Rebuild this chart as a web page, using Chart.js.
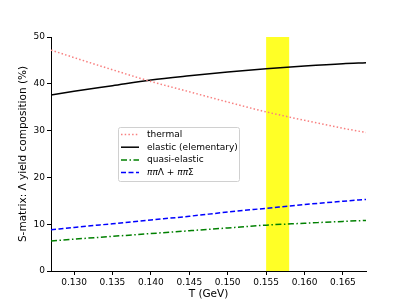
<!DOCTYPE html>
<html lang="en">
<head>
    <meta charset="UTF-8">
    <title>S-matrix Lambda yield composition</title>
    <script src="https://cdnjs.cloudflare.com/ajax/libs/Chart.js/4.4.1/chart.umd.min.js"></script>
    <style>
        body { margin: 0; padding: 0; background: #fff; }
        #chart-container { width: 407px; height: 305px; }
    </style>
</head>
<body>
    <div id="chart-container">
        <canvas id="myChart" width="407" height="305"></canvas>
    </div>

    <script>
    // temperatures (GeV)
    const temps = [0.127, 0.130, 0.135, 0.140, 0.145, 0.150, 0.155, 0.160, 0.165, 0.168];
    const thermal = [47.2, 45.6, 43.0, 40.5, 38.3, 36.1, 34.0, 32.2, 30.5, 29.6];
    const elastic = [37.6, 38.4, 39.6, 40.8, 41.7, 42.5, 43.2, 43.8, 44.3, 44.5];
    const quasiElastic = [6.4, 6.8, 7.4, 8.0, 8.6, 9.2, 9.8, 10.2, 10.6, 10.8];
    const pipiLambda = [8.8, 9.3, 10.1, 10.9, 11.7, 12.6, 13.4, 14.2, 14.9, 15.3];
    const xTicks = [0.130, 0.135, 0.140, 0.145, 0.150, 0.155, 0.160, 0.165];
    const yTicks = [0, 10, 20, 30, 40, 50];
    const band = [0.155, 0.158];

    const FONT = 'DejaVu Sans';

    function pts(ys) {
        return temps.map((t, i) => ({ x: t, y: ys[i] }));
    }

    // yellow band behind the curves
    const bandPlugin = {
        id: 'band',
        beforeDatasetsDraw(chart) {
            const { ctx, chartArea, scales } = chart;
            const x0 = scales.x.getPixelForValue(band[0]);
            const x1 = scales.x.getPixelForValue(band[1]);
            ctx.save();
            ctx.fillStyle = 'rgba(255,255,0,0.85)';
            ctx.fillRect(x0, chartArea.top, x1 - x0, chartArea.bottom - chartArea.top);
            ctx.restore();
        }
    };

    // label text, pi drawn in italic like matplotlib mathtext
    function drawLabel(ctx, text, x, y) {
        for (const ch of text) {
            ctx.font = (ch === '\u03c0' ? 'italic ' : '') + '9px "' + FONT + '"';
            ctx.fillText(ch, x, y);
            x += ctx.measureText(ch).width;
        }
    }

    // matplotlib-style legend box inside the axes
    const legendPlugin = {
        id: 'boxLegend',
        afterDatasetsDraw(chart) {
            const { ctx, chartArea } = chart;
            const bx = chartArea.left + 67, by = chartArea.top + 90;
            const bw = 121, bh = 54;
            ctx.save();
            ctx.fillStyle = 'rgba(255,255,255,0.85)';
            ctx.strokeStyle = '#d0d0d0';
            ctx.lineWidth = 1;
            ctx.beginPath();
            ctx.roundRect(bx + 0.5, by + 0.5, bw, bh, 2);
            ctx.fill();
            ctx.stroke();
            ctx.textBaseline = 'middle';
            chart.data.datasets.forEach((ds, i) => {
                const y = by + 7.5 + i * 12.7;
                ctx.strokeStyle = ds.borderColor;
                ctx.lineWidth = ds.borderWidth;
                ctx.setLineDash(ds.borderDash || []);
                ctx.beginPath();
                ctx.moveTo(bx + 3, y);
                ctx.lineTo(bx + 21, y);
                ctx.stroke();
                ctx.setLineDash([]);
                ctx.fillStyle = '#000';
                drawLabel(ctx, ds.label, bx + 29, y);
            });
            ctx.restore();
        }
    };

    const ctx = document.getElementById('myChart').getContext('2d');

    new Chart(ctx, {
        type: 'line',
        data: {
            datasets: [{
                label: 'thermal',
                data: pts(thermal),
                borderColor: '#f88080',
                borderWidth: 1.5,
                borderDash: [1.5, 2.2]
            }, {
                label: 'elastic (elementary)',
                data: pts(elastic),
                borderColor: '#000000',
                borderWidth: 1.5
            }, {
                label: 'quasi-elastic',
                data: pts(quasiElastic),
                borderColor: '#008000',
                borderWidth: 1.5,
                borderDash: [6, 2.5, 1.5, 2.5]
            }, {
                label: '\u03c0\u03c0\u039b + \u03c0\u03c0\u03a3',
                data: pts(pipiLambda),
                borderColor: '#0000ff',
                borderWidth: 1.5,
                borderDash: [5, 2.5]
            }]
        },
        options: {
            responsive: false,
            animation: false,
            layout: { padding: { top: 37, right: 41, left: 0, bottom: 0 } },
            elements: {
                point: { radius: 0 },
                line: { cubicInterpolationMode: 'monotone' }
            },
            plugins: {
                legend: { display: false },
                tooltip: { enabled: false }
            },
            scales: {
                x: {
                    type: 'linear',
                    min: 0.127,
                    max: 0.168,
                    afterBuildTicks: s => { s.ticks = xTicks.map(v => ({ value: v })); },
                    afterFit: s => { s.height = 34; },
                    border: { color: '#000', width: 1 },
                    grid: { drawOnChartArea: false, color: '#000', tickLength: 4 },
                    ticks: {
                        color: '#000',
                        font: { family: FONT, size: 9 },
                        padding: 2,
                        maxRotation: 0,
                        callback: v => v.toFixed(3)
                    },
                    title: {
                        display: true,
                        text: 'T (GeV)',
                        color: '#000',
                        font: { family: FONT, size: 10.5 },
                        padding: { top: 0, bottom: 4.5 }
                    }
                },
                y: {
                    type: 'linear',
                    min: 0,
                    max: 50,
                    afterBuildTicks: s => { s.ticks = yTicks.map(v => ({ value: v })); },
                    afterFit: s => { s.width = 51; },
                    border: { color: '#000', width: 1 },
                    grid: { drawOnChartArea: false, color: '#000', tickLength: 4 },
                    ticks: {
                        color: '#000',
                        font: { family: FONT, size: 9 },
                        padding: 2
                    },
                    title: {
                        display: true,
                        text: 'S-matrix: \u039b yield composition (%)',
                        color: '#000',
                        font: { family: FONT, size: 10.5 },
                        padding: { top: 17, bottom: 0 }
                    }
                }
            }
        },
        plugins: [bandPlugin, legendPlugin]
    });
    </script>
</body>
</html>
